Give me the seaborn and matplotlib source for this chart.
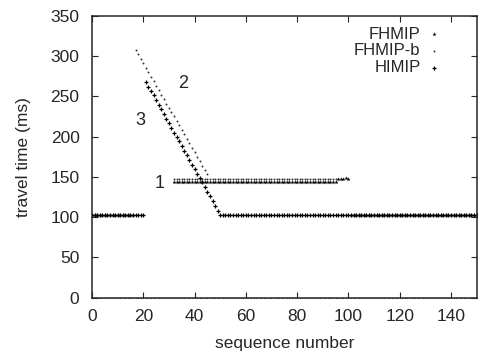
import numpy as np
import pandas as pd
import matplotlib
matplotlib.use("Agg")
import matplotlib.pyplot as plt
import seaborn as sns

sns.set_style("ticks")
plt.rcParams['font.family'] = ['Liberation Sans', 'DejaVu Sans']

# ---- data ----
# HIMIP
himip_pre_x = list(range(0, 21))
himip_pre_y = [103] * 21
himip_slope_x = list(range(21, 51))
himip_slope_y = [268, 262, 256, 251, 245, 239, 234, 228, 222, 217, 211, 205, 199, 194, 188,
                 182, 177, 171, 165, 160, 154, 148, 143, 137, 131, 126, 120, 114, 108, 103]
himip_post_x = list(range(51, 151))
himip_post_y = [103] * 100

# FHMIP (lower branch of curve 1)
fhmip_pre_x = list(range(0, 17))
fhmip_pre_y = [103] * 17
fhmip_mid_x = list(range(32, 96))
fhmip_mid_y = [144] * 64
fhmip_end_x = list(range(96, 101))
fhmip_end_y = [147, 147, 147, 148, 147]
fhmip_post_x = list(range(101, 151))
fhmip_post_y = [103] * 50

# FHMIP-b (curve 2 then upper branch of curve 1)
fb_pre_x = list(range(0, 17))
fb_pre_y = [103] * 17
fb_slope_x = list(range(17, 46))
fb_slope_y = [307, 302, 296, 291, 285, 280, 274, 269, 263, 258, 252, 247, 241, 236, 230,
              225, 219, 214, 208, 203, 197, 192, 186, 181, 175, 170, 164, 159, 153]
fb_mid_x = list(range(32, 96))
fb_mid_y = [147] * 64
fb_post_x = list(range(101, 151))
fb_post_y = [103] * 50
# lost packets drawn on the axis
lost_x = list(range(0, 151))
lost_y = [0] * 151

himip = pd.DataFrame({"seq": himip_pre_x + himip_slope_x + himip_post_x,
                      "time": himip_pre_y + himip_slope_y + himip_post_y})
fhmip = pd.DataFrame({"seq": fhmip_pre_x + fhmip_mid_x + fhmip_end_x + fhmip_post_x,
                      "time": fhmip_pre_y + fhmip_mid_y + fhmip_end_y + fhmip_post_y})
fhmipb = pd.DataFrame({"seq": fb_pre_x + fb_slope_x + fb_mid_x + fb_post_x,
                       "time": fb_pre_y + fb_slope_y + fb_mid_y + fb_post_y})
lost = pd.DataFrame({"seq": lost_x, "time": lost_y})

fig = plt.figure(figsize=(4.83, 3.55), dpi=100)
ax = fig.add_axes([92/483, 1 - 297.7/355, (476.6-92)/483, (297.7-15.7)/355])

sns.scatterplot(data=fhmip, x="seq", y="time", marker="*", s=10, color="black",
                linewidth=0, ax=ax, label="FHMIP")
sns.scatterplot(data=fhmipb, x="seq", y="time", marker=".", s=8, color="#333333",
                linewidth=0, ax=ax, label="FHMIP-b")
sns.scatterplot(data=himip, x="seq", y="time", marker="+", s=9, color="black",
                linewidth=0.9, ax=ax, label="HIMIP")
sns.scatterplot(data=lost, x="seq", y="time", marker=".", s=3, color="#555555",
                linewidth=0, ax=ax, legend=False, clip_on=False)

ax.set_xlim(0, 150)
ax.set_ylim(0, 350)
ax.set_xticks(range(0, 150, 20))
ax.set_yticks(range(0, 351, 50))
ax.tick_params(direction="in", top=True, right=True, length=4, labelsize=12.5, width=0.8)
ax.tick_params(axis="x", pad=8)
ax.tick_params(axis="y", pad=9)
for s in ax.spines.values():
    s.set_linewidth(1.1)
    s.set_visible(True)
ax.set_xlabel("sequence number", fontsize=12.5, labelpad=9)
ax.set_ylabel("travel time (ms)", fontsize=12.5, labelpad=14)

ax.text(26.5, 142, "1", fontsize=13, ha="center", va="center")
ax.text(35.5, 266, "2", fontsize=13, ha="center", va="center")
ax.text(19, 220, "3", fontsize=13, ha="center", va="center")

leg = ax.legend(loc="upper right", bbox_to_anchor=(0.915, 0.979), frameon=False,
                markerfirst=False, fontsize=12, handletextpad=0.5, borderaxespad=0.0,
                labelspacing=0.1, markerscale=1.0, handlelength=0.6, borderpad=0.3)

fig.savefig("out.png", dpi=100)
